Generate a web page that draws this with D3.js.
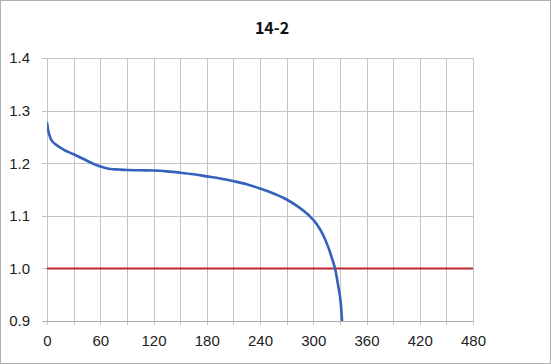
<!DOCTYPE html>
<html>
<head>
<meta charset="utf-8">
<script src="https://cdn.jsdelivr.net/npm/d3@7"></script>
<style>
  html, body { margin: 0; padding: 0; background: #fff; }
  svg { display: block; }
</style>
</head>
<body>
<svg id="chart" width="551" height="364"></svg>
<script>
const title = "14-2";
const timeValues = [0, 1.4, 4.3, 9.6, 18.5, 30, 43.4, 52, 59.4, 66, 71.8, 80, 89.6, 105, 119.8, 135, 150, 165, 180, 195, 209.6, 225, 239.8, 256, 270, 284, 295, 304, 311, 317, 321.5, 324.5, 328.2, 331, 332.5];
const voltageValues = [1.278, 1.262, 1.246, 1.236, 1.226, 1.217, 1.206, 1.199, 1.194, 1.191, 1.189, 1.188, 1.187, 1.1865, 1.186, 1.1845, 1.182, 1.179, 1.175, 1.171, 1.166, 1.160, 1.152, 1.142, 1.131, 1.116, 1.101, 1.084, 1.064, 1.040, 1.017, 1.000, 0.966, 0.934, 0.899];
const cutoffVoltage = [1.0];
const xTickLabels = [0, 60, 120, 180, 240, 300, 360, 420, 480];
const xGridValues = [0, 30, 60, 90, 120, 150, 180, 210, 240, 270, 300, 330, 360, 390, 420, 450, 480];
const yTickLabels = [0.9, 1.0, 1.1, 1.2, 1.3, 1.4];

const svg = d3.select("#chart");
const W = 551, H = 364;
const m = { left: 47, right: 78, top: 58, bottom: 43 };

svg.append("rect").attr("x", 0.5).attr("y", 0.5).attr("width", W - 1).attr("height", H - 1)
  .attr("fill", "#fff").attr("stroke", "#b0b0b0");

const x = d3.scaleLinear().domain([0, 480]).range([m.left, W - m.right]);
const y = d3.scaleLinear().domain([0.9, 1.4]).range([H - m.bottom, m.top]);

const grid = svg.append("g");
grid.selectAll("line.v").data(xGridValues).join("line")
  .attr("x1", d => Math.round(x(d)) + 0.5).attr("x2", d => Math.round(x(d)) + 0.5)
  .attr("y1", y(1.4)).attr("y2", y(0.9) + 4)
  .attr("stroke", "#c4c4c4").attr("stroke-width", 1);
grid.selectAll("line.h").data(yTickLabels).join("line")
  .attr("x1", x(0) - 5).attr("x2", x(480))
  .attr("y1", d => Math.round(y(d)) + 0.5).attr("y2", d => Math.round(y(d)) + 0.5)
  .attr("stroke", d => d === 0.9 ? "#b0b0b0" : "#c4c4c4").attr("stroke-width", 1);

const yAxis = d3.axisLeft(y).tickValues(yTickLabels).tickFormat(d3.format(".1f")).tickSize(0).tickPadding(17);
const gy = svg.append("g").attr("transform", `translate(${m.left},0)`).call(yAxis);
gy.select(".domain").remove();
gy.selectAll("text").attr("font-family", "'Liberation Sans', Arial, sans-serif").attr("font-size", 15).attr("fill", "#222");

const xAxis = d3.axisBottom(x).tickValues(xTickLabels).tickFormat(d3.format("d")).tickSize(0).tickPadding(14);
const gx = svg.append("g").attr("transform", `translate(0,${H - m.bottom})`).call(xAxis);
gx.select(".domain").remove();
gx.selectAll("text").attr("font-family", "'Liberation Sans', Arial, sans-serif").attr("font-size", 15).attr("fill", "#222");

svg.selectAll("line.cut").data(cutoffVoltage).join("line")
  .attr("x1", x(0)).attr("x2", x(480))
  .attr("y1", d => y(d)).attr("y2", d => y(d))
  .attr("stroke", "#c0272d").attr("stroke-width", 2);

svg.append("clipPath").attr("id", "plotclip").append("rect")
  .attr("x", x(0)).attr("y", y(1.4)).attr("width", x(480) - x(0)).attr("height", y(0.9) - y(1.4));
const pts = timeValues.map((t, i) => [t, voltageValues[i]]);
const line = d3.line().x(d => x(d[0])).y(d => y(d[1])).curve(d3.curveMonotoneX);
svg.append("path").datum(pts).attr("d", line)
  .attr("clip-path", "url(#plotclip)")
  .attr("fill", "none").attr("stroke", "#3461bb").attr("stroke-width", 2.6).attr("stroke-linejoin", "round");

svg.append("text").attr("x", 272).attr("y", 34).attr("text-anchor", "middle")
  .attr("font-family", "'Noto Sans CJK JP', 'Noto Sans', sans-serif").attr("font-weight", "bold")
  .attr("font-size", 16).attr("fill", "#111").text(title);
</script>
</body>
</html>
